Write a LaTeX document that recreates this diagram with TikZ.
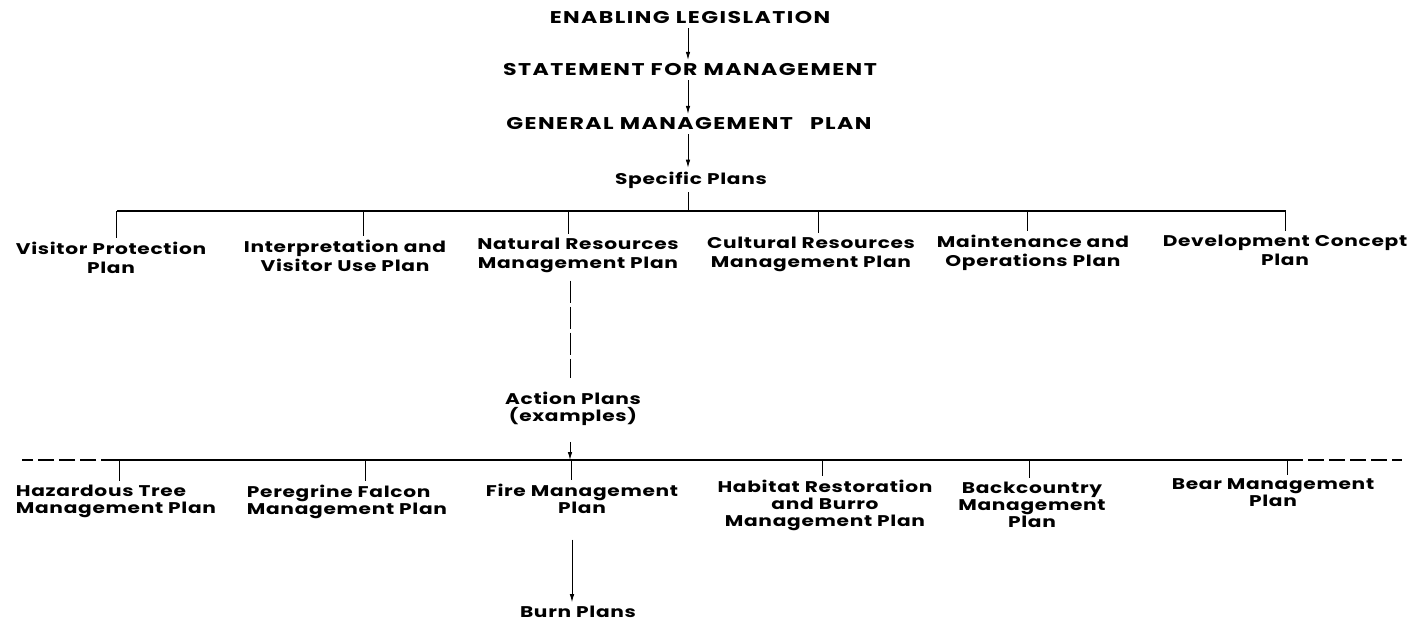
\documentclass[tikz,border=0pt]{standalone}
\usepackage{fontspec}
\setmainfont{Poppins}
\newfontfamily\headfont{Poppins}[FakeStretch=1.3, LetterSpace=8.5]
\newfontfamily\planfont{Poppins}[FakeStretch=1.3, LetterSpace=4.5]
\usetikzlibrary{arrows.meta,calc}

\begin{document}
\begin{tikzpicture}[x=1pt,y=-1pt,
    head/.style ={
        font=\headfont\fontsize{17}{20}\selectfont\bfseries,
        inner sep=0pt,
        outer sep=4pt
    },
    plan/.style ={
        font=\planfont\fontsize{15.5}{19}\selectfont\bfseries,
        inner sep=0pt,
        outer sep=4pt
    },
    low/.style ={
        plan,
        font=\planfont\fontsize{15.5}{17}\selectfont\bfseries
    },
    arr/.style ={
        line width=0.9pt,
        -{Latex[length=8pt,width=4.5pt]}
    },
    drop/.style ={line width=0.9pt},
    bar/.style ={line width=2.8pt},
    broken/.style ={line width=0.9pt, dash pattern=on 22pt off 4pt},
    ends/.style ={line width=2.8pt, dash pattern=on 16pt off 5pt}
    ]
    \useasboundingbox (0,0) rectangle (1409,622);

    % main chain
    \node[head] (ena) at (690,18) {ENABLING LEGISLATION};
    \node[head] (sta) at (690,70) {STATEMENT FOR MANAGEMENT};
    \node[head] (gen) at (689,124) {GENERAL MANAGEMENT\quad PLAN};
    \node[plan] (spe) at (691,180) {Specific Plans};
    \foreach \a/ \b in {ena/sta, sta/gen, gen/spe}
        \draw[arr] (\a.south -| 688,0) -- (\b.north -| 688,0);

    % specific plans
    \coordinate (topL) at (117,211);
    \coordinate (topR) at (1286,211);
    \draw[bar] (topL) -- (topR);
    \draw[drop] (spe.south -| 688,0) -- (topL -| 688,0);
    \foreach \nm/ \dx/ \cx/ \ty/ \txt in {{vis/116/111/238/Visitor Protection\\Plan},
                                        {int/363/345/236/Interpretation and\\Visitor Use Plan},
                                        {nat/568/578/234/Natural Resources\\Management Plan},
                                        {cul/818/811/233/Cultural Resources\\Management Plan},
                                        {mai/1027/1033/231/Maintenance and\\Operations Plan},
                                        {dev/1285/1285/231/Development Concept\\Plan}}
    {
        \node[plan, align=center, anchor=north] (\nm) at (\cx,\ty) {\txt};
        \coordinate (d\nm) at (\dx,211);
        \draw[drop] (d\nm) -- (d\nm |- \nm.north);
    }

    % action plans
    \node[low, align=center] (act) at (573,409) {Action Plans\\(examples)};
    \draw[broken] ([yshift=-4pt]nat.south -| 570,0) -- ([yshift=10pt]act.north -| 570,0);
    \coordinate (lowL) at (117,460);
    \coordinate (lowR) at (1287,460);
    \draw[bar] (lowL) -- (lowR);
    \draw[ends] (lowL) -- (22,460);
    \draw[ends] (lowR) -- (1402,460);
    \draw[arr] ([yshift=-12pt]act.south -| 570,0) -- (lowL -| 570,0);

    \foreach \nm/ \dx/ \cx/ \ty/ \al/ \txt in {{haz/119/116/481/left/Hazardous Tree\\Management Plan},
                                             {per/365/347/481/left/Peregrine Falcon\\Management Plan},
                                             {fir/571/582/480/center/Fire Management\\Plan},
                                             {hab/822/825/476/center/Habitat Restoration\\and Burro\\Management Plan},
                                             {bac/1029/1032/478/center/Backcountry\\Management\\Plan},
                                             {bea/1287/1273/475/center/Bear Management\\Plan}}
    {
        \node[low, align=\al, anchor=north] (\nm) at (\cx,\ty) {\txt};
        \coordinate (d\nm) at (\dx,460);
        \draw[drop] (d\nm) -- (d\nm |- \nm.north);
    }

    % burn plans
    \node[low] (bur) at (578,612) {Burn Plans};
    \draw[arr] ([yshift=-22pt]fir.south -| 572,0) -- (bur.north -| 572,0);
\end{tikzpicture}
\end{document}
